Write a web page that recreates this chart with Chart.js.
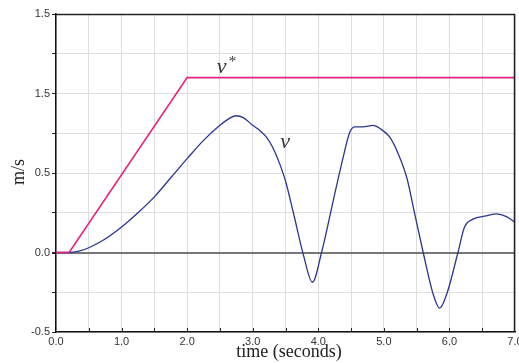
<!DOCTYPE html>
<html>
<head>
<meta charset="utf-8">
<script src="https://cdn.jsdelivr.net/npm/chart.js@4.4.1/dist/chart.umd.min.js"></script>
<style>
html,body{margin:0;padding:0;background:#fff;}
#wrap{width:519px;height:363px;position:relative;}
</style>
</head>
<body>
<div id="wrap"><canvas id="c" width="519" height="363"></canvas></div>
<script>
// ---- data ----
const refT = [0, 0.2, 2.0, 7.0];
const refV = [0, 0, 1.1, 1.1];

const velT = [0, 0.2, 0.35, 0.5, 0.75, 1.0, 1.25, 1.5, 1.75, 2.0, 2.25, 2.5, 2.65, 2.75, 2.85, 3.0, 3.1, 3.2, 3.3, 3.4, 3.5, 3.62, 3.77, 3.91, 4.05, 4.23, 4.38, 4.48, 4.56, 4.68, 4.84, 4.94, 5.09, 5.22, 5.35, 5.47, 5.6, 5.75, 5.85, 5.96, 6.13, 6.23, 6.36, 6.56, 6.72, 6.87, 7.0];
const velV = [0, 0, 0.008, 0.03, 0.085, 0.16, 0.25, 0.35, 0.47, 0.59, 0.705, 0.80, 0.845, 0.86, 0.85, 0.80, 0.77, 0.73, 0.665, 0.57, 0.45, 0.25, -0.01, -0.187, 0, 0.33, 0.6, 0.757, 0.79, 0.79, 0.80, 0.78, 0.725, 0.62, 0.47, 0.245, 0, -0.26, -0.35, -0.26, 0, 0.16, 0.21, 0.23, 0.243, 0.226, 0.19];

const xTickValues = [0, 1, 2, 3, 4, 5, 6, 7];
const xTickLabels = ['0.0', '1.0', '2.0', '3.0', '4.0', '5.0', '6.0', '7.0'];
const yTickValues = [-0.5, 0, 0.5, 1.0, 1.5];
const yTickLabels = ['-0.5', '0.0', '0.5', '1.5', '1.5'];

const xTitle = 'time (seconds)';
const yTitle = 'm/s';

const toPts = (xs, ys) => xs.map((x, i) => ({x: x, y: ys[i]}));
const near = (a, b) => Math.abs(a - b) < 1e-6;

const decor = {
  id: 'decor',
  afterDatasetsDraw(chart) {
    const ctx = chart.ctx;
    const a = chart.chartArea;
    const xs = chart.scales.x, ys = chart.scales.y;
    ctx.save();
    // top and right frame
    ctx.strokeStyle = '#222';
    ctx.lineWidth = 1.5;
    ctx.beginPath();
    ctx.moveTo(a.left, a.top + 0.5);
    ctx.lineTo(a.right - 0.5, a.top + 0.5);
    ctx.lineTo(a.right - 0.5, a.bottom);
    ctx.stroke();
    // inside ticks on x axis
    ctx.lineWidth = 1;
    ctx.strokeStyle = '#222';
    for (let t = 0.5; t < 7; t += 0.5) {
      const px = Math.round(xs.getPixelForValue(t)) + 0.5;
      ctx.beginPath();
      ctx.moveTo(px, a.bottom);
      ctx.lineTo(px, a.bottom - 4);
      ctx.stroke();
    }
    // curve labels
    ctx.fillStyle = '#333';
    ctx.font = 'italic 22px "Liberation Serif", "DejaVu Serif", serif';
    ctx.textAlign = 'left';
    ctx.textBaseline = 'alphabetic';
    const lx = xs.getPixelForValue(2.45), ly = ys.getPixelForValue(1.13);
    ctx.fillText('v', lx, ly);
    ctx.font = '15px "Liberation Serif", "DejaVu Serif", serif';
    ctx.fillText('*', lx + 12, ly - 7);
    ctx.font = 'italic 22px "Liberation Serif", "DejaVu Serif", serif';
    ctx.fillText('v', xs.getPixelForValue(3.42), ys.getPixelForValue(0.66));
    // axis titles
    ctx.fillStyle = '#222';
    ctx.font = '18px "Liberation Serif", "DejaVu Serif", serif';
    ctx.textAlign = 'center';
    ctx.textBaseline = 'alphabetic';
    ctx.fillText(xTitle, 289, 357);
    ctx.translate(24, 172);
    ctx.rotate(-Math.PI / 2);
    ctx.textBaseline = 'alphabetic';
    ctx.fillText(yTitle, 0, 0);
    ctx.restore();
  }
};

new Chart(document.getElementById('c'), {
  type: 'line',
  data: {
    datasets: [
      {
        label: 'v*',
        data: toPts(refT, refV),
        borderColor: '#e8207e',
        borderWidth: 1.6,
        pointRadius: 0,
        tension: 0,
        order: 0
      },
      {
        label: 'v',
        data: toPts(velT, velV),
        borderColor: '#2a3593',
        borderWidth: 1.3,
        pointRadius: 0,
        cubicInterpolationMode: 'monotone',
        order: 1
      }
    ]
  },
  options: {
    responsive: false,
    animation: false,
    devicePixelRatio: 1,
    layout: {padding: {top: 14, right: 4, left: 0, bottom: 0}},
    plugins: {legend: {display: false}, tooltip: {enabled: false}},
    scales: {
      x: {
        type: 'linear',
        min: 0, max: 7,
        ticks: {
          stepSize: 0.5,
          autoSkip: false,
          maxRotation: 0,
          padding: 3,
          color: '#333',
          font: {family: '"Liberation Sans", Arial, sans-serif', size: 11},
          callback: (v) => {
            const i = xTickValues.findIndex(t => near(t, v));
            return i >= 0 ? xTickLabels[i] : '';
          }
        },
        grid: {
          color: '#dedede',
          lineWidth: 1,
          drawTicks: false
        },
        border: {color: '#111', width: 1.5},
        afterFit: (s) => { s.height = 31; s.paddingLeft = 0; s.paddingRight = 0; }
      },
      y: {
        min: -0.5, max: 1.5,
        ticks: {
          stepSize: 0.25,
          autoSkip: false,
          padding: 2,
          color: '#333',
          font: {family: '"Liberation Sans", Arial, sans-serif', size: 11},
          callback: (v) => {
            const i = yTickValues.findIndex(t => near(t, v));
            return i >= 0 ? yTickLabels[i] : '';
          }
        },
        grid: {
          color: (c) => (c.tick && near(c.tick.value, 0)) ? '#777' : '#dedede',
          lineWidth: (c) => (c.tick && near(c.tick.value, 0)) ? 2 : 1,
          tickColor: '#222',
          tickLength: 4,
          drawTicks: true
        },
        border: {color: '#111', width: 1.5},
        afterFit: (s) => { s.width = 56; s.paddingTop = 0; s.paddingBottom = 0; }
      }
    }
  },
  plugins: [decor]
});
</script>
</body>
</html>
